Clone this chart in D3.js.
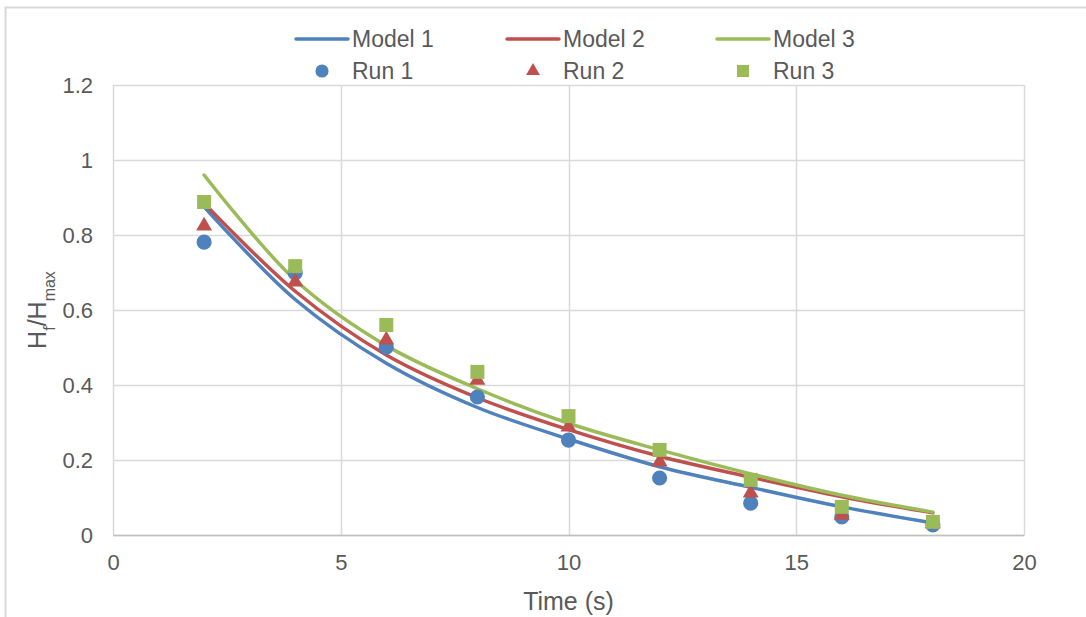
<!DOCTYPE html>
<html lang="en">
<head>
<meta charset="utf-8">
<title>Hf/Hmax vs time</title>
<script src="https://d3js.org/d3.v7.min.js"></script>
<style>
  body { margin: 0; background: #fff; }
  text { font-family: "Liberation Sans", Arial, sans-serif; fill: #595959; }
</style>
</head>
<body>
<svg class="chart"></svg>
<script>
// data
var times = [2, 4, 6, 8, 10, 12, 14, 16, 18];
var model1 = [0.875, 0.628, 0.458, 0.340, 0.256, 0.182, 0.127, 0.075, 0.032];
var model2 = [0.885, 0.650, 0.480, 0.366, 0.281, 0.210, 0.154, 0.102, 0.059];
var model3 = [0.960, 0.680, 0.505, 0.390, 0.298, 0.227, 0.163, 0.106, 0.061];
var run1 = [0.781, 0.699, 0.501, 0.368, 0.253, 0.152, 0.085, 0.048, 0.027];
var run2 = [0.824, 0.675, 0.520, 0.413, 0.288, 0.195, 0.112, 0.053, 0.030];
var run3 = [0.888, 0.717, 0.560, 0.435, 0.317, 0.227, 0.147, 0.075, 0.035];
var xTicks = [0, 5, 10, 15, 20];
var yTicks = [0, 0.2, 0.4, 0.6, 0.8, 1, 1.2];

var W = 1086, H = 617;
var margin = {top: 85, right: 62, bottom: 82, left: 113};

var svg = d3.select(".chart").attr("width", W).attr("height", H);

// outer chart frame
svg.append("rect")
    .attr("x", 5.5).attr("y", 7.5)
    .attr("width", W + 20).attr("height", H + 20)
    .attr("fill", "none").attr("stroke", "#d9d9d9").attr("stroke-width", 2);

var x = d3.scaleLinear().domain([0, 20]).range([margin.left, W - margin.right]);
var y = d3.scaleLinear().domain([0, 1.2]).range([H - margin.bottom, margin.top]);

// grid
svg.append("g").selectAll("line").data(yTicks).enter().append("line")
    .attr("x1", x(0)).attr("x2", x(20))
    .attr("y1", function(d) { return Math.round(y(d)) + 0.5; })
    .attr("y2", function(d) { return Math.round(y(d)) + 0.5; })
    .attr("stroke", "#d9d9d9").attr("stroke-width", 1.5);
svg.append("g").selectAll("line").data(xTicks).enter().append("line")
    .attr("y1", y(0)).attr("y2", y(1.2))
    .attr("x1", function(d) { return Math.round(x(d)) + 0.5; })
    .attr("x2", function(d) { return Math.round(x(d)) + 0.5; })
    .attr("stroke", "#d9d9d9").attr("stroke-width", 1.5);

// axes (labels only, Excel style)
var xAxis = svg.append("g").attr("transform", "translate(0," + y(0) + ")")
    .call(d3.axisBottom(x).tickValues(xTicks).tickSize(0).tickPadding(19).tickFormat(d3.format("d")));
xAxis.select(".domain").attr("stroke", "#bfbfbf").attr("stroke-width", 1.5);
xAxis.selectAll("text").style("font-size", "22px").attr("fill", "#595959");

var yAxis = svg.append("g").attr("transform", "translate(" + x(0) + ",0)")
    .call(d3.axisLeft(y).tickValues(yTicks).tickSize(0).tickPadding(20)
        .tickFormat(function(d) { return d3.format("~g")(d); }));
yAxis.select(".domain").remove();
yAxis.selectAll("text").style("font-size", "22px").attr("fill", "#595959");

// axis titles
svg.append("text")
    .attr("x", (x(0) + x(20)) / 2).attr("y", 610)
    .attr("text-anchor", "middle").style("font-size", "25px")
    .text("Time (s)");

var yt = svg.append("text")
    .attr("transform", "translate(46," + ((y(0) + y(1.2)) / 2) + ") rotate(-90)")
    .attr("text-anchor", "middle").style("font-size", "25px");
yt.append("tspan").text("H");
yt.append("tspan").attr("baseline-shift", "sub").style("font-size", "16px").text("f");
yt.append("tspan").text("/H");
yt.append("tspan").attr("baseline-shift", "sub").style("font-size", "16px").text("max");

var colors = ["#4f81bd", "#c0504d", "#9bbb59"];
var models = [model1, model2, model3];
var runs = [run1, run2, run3];

var line = d3.line()
    .x(function(d) { return x(d[0]); })
    .y(function(d) { return y(d[1]); })
    .curve(d3.curveCatmullRom.alpha(0.5));

models.forEach(function(m, i) {
    svg.append("path")
        .datum(times.map(function(t, j) { return [t, m[j]]; }))
        .attr("d", line)
        .attr("fill", "none")
        .attr("stroke", colors[i])
        .attr("stroke-width", 3.5)
        .attr("stroke-linecap", "round");
});

var symbols = [d3.symbolCircle, d3.symbolTriangle, d3.symbolSquare];
var sizes = [180, 110, 196];

runs.forEach(function(r, i) {
    svg.append("g").selectAll("path")
        .data(times.map(function(t, j) { return [t, r[j]]; }))
        .enter().append("path")
        .attr("transform", function(d) { return "translate(" + x(d[0]) + "," + y(d[1]) + ")"; })
        .attr("d", d3.symbol().type(symbols[i]).size(sizes[i]))
        .attr("fill", colors[i]);
});

// legend
var legendX = [296, 507, 717];
var modelNames = ["Model 1", "Model 2", "Model 3"];
var runNames = ["Run 1", "Run 2", "Run 3"];
legendX.forEach(function(lx, i) {
    svg.append("line")
        .attr("x1", lx).attr("x2", lx + 52)
        .attr("y1", 39).attr("y2", 39)
        .attr("stroke", colors[i]).attr("stroke-width", 3.5)
        .attr("stroke-linecap", "round");
    svg.append("text")
        .attr("x", lx + 56).attr("y", 39).attr("dy", "0.35em")
        .style("font-size", "23px").text(modelNames[i]);
    svg.append("path")
        .attr("transform", "translate(" + (lx + 26) + ",71)")
        .attr("d", d3.symbol().type(symbols[i]).size(sizes[i] * 0.75))
        .attr("fill", colors[i]);
    svg.append("text")
        .attr("x", lx + 56).attr("y", 71).attr("dy", "0.35em")
        .style("font-size", "23px").text(runNames[i]);
});
</script>
</body>
</html>
